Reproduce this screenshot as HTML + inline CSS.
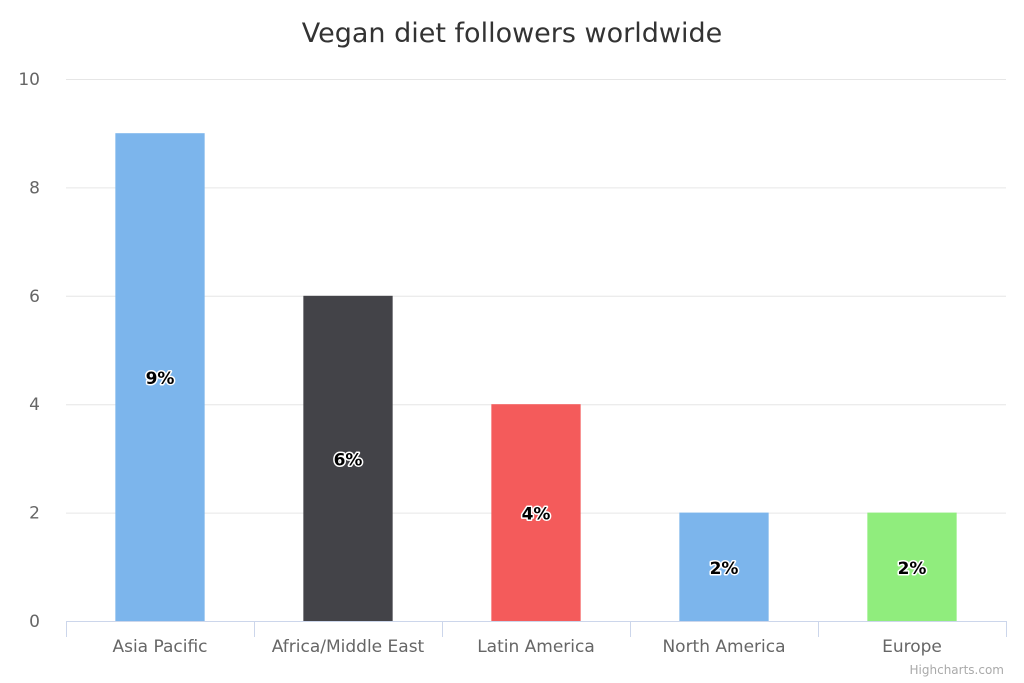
<!DOCTYPE html>
<html><head><meta charset="utf-8"><style>
html,body{margin:0;padding:0;background:#fff;}
svg{display:block;font-family:"DejaVu Sans","Liberation Sans",sans-serif;}
</style></head><body>
<svg id="chart" width="1024" height="683" viewBox="0 0 1024 683">
<text x="512" y="42" text-anchor="middle" font-size="27" fill="#333">Vegan diet followers worldwide</text>
<g id="grid"></g><g id="bars"></g><g id="labels"></g><g id="xaxis"></g>
<text x="1004" y="674" text-anchor="end" font-size="12" fill="#aaa">Highcharts.com</text>
</svg>
<script>
const categories=["Asia Pacific","Africa/Middle East","Latin America","North America","Europe"];
const values=[9,6,4,2,2];
const valueLabels=["9%","6%","4%","2%","2%"];
const colors=["#7cb5ec","#434348","#f45b5b","#7cb5ec","#90ed7d"];
const yTicks=[0,2,4,6,8,10];
const NS="http://www.w3.org/2000/svg";
const L=66,R=1006,T=79,B=621,yMax=10;
const y=v=>B-(v/yMax)*(B-T);
const bw=(R-L)/categories.length;
const x=i=>L+bw*i;
function mk(tag,attrs,parent,text){const e=document.createElementNS(NS,tag);for(const k in attrs)e.setAttribute(k,attrs[k]);if(text!==undefined)e.textContent=text;document.getElementById(parent).appendChild(e);return e;}
yTicks.forEach(t=>{
  if(t>0){const g=mk('line',{x1:L,x2:R,y1:y(t)+0.5,y2:y(t)+0.5,stroke:'#e6e6e6','stroke-width':1},'grid');
  
  }
  const tl=mk('text',{x:40,y:y(t)+6,'text-anchor':'end','font-size':17,fill:'#666'},'grid',String(t));
  
  
});
values.forEach((v,i)=>{
  const w=bw*0.475;
  const r=mk('rect',{x:x(i)+(bw-w)/2,y:y(v),width:w,height:B-y(v),fill:colors[i]},'bars');
  
  
  const lt=mk('text',{x:x(i)+bw/2,y:(y(v)+B)/2+7,'text-anchor':'middle','font-size':17,'font-weight':'bold',fill:'#000',stroke:'#fff','stroke-width':3,'paint-order':'stroke','stroke-linejoin':'round'},'labels',valueLabels[i]);
  
  
  const c=mk('text',{x:x(i)+bw/2,y:652,'text-anchor':'middle','font-size':17,fill:'#666'},'xaxis',categories[i]);
  
  
});
const ax=mk('line',{x1:L,x2:R,y1:B+0.5,y2:B+0.5,stroke:'#ccd6eb','stroke-width':1},'xaxis');


for(let i=0;i<=categories.length;i++){
  const tk=mk('line',{x1:x(i)+0.5,x2:x(i)+0.5,y1:B,y2:B+16,stroke:'#ccd6eb','stroke-width':1},'xaxis');
  
  
}
</script>
</body></html>
